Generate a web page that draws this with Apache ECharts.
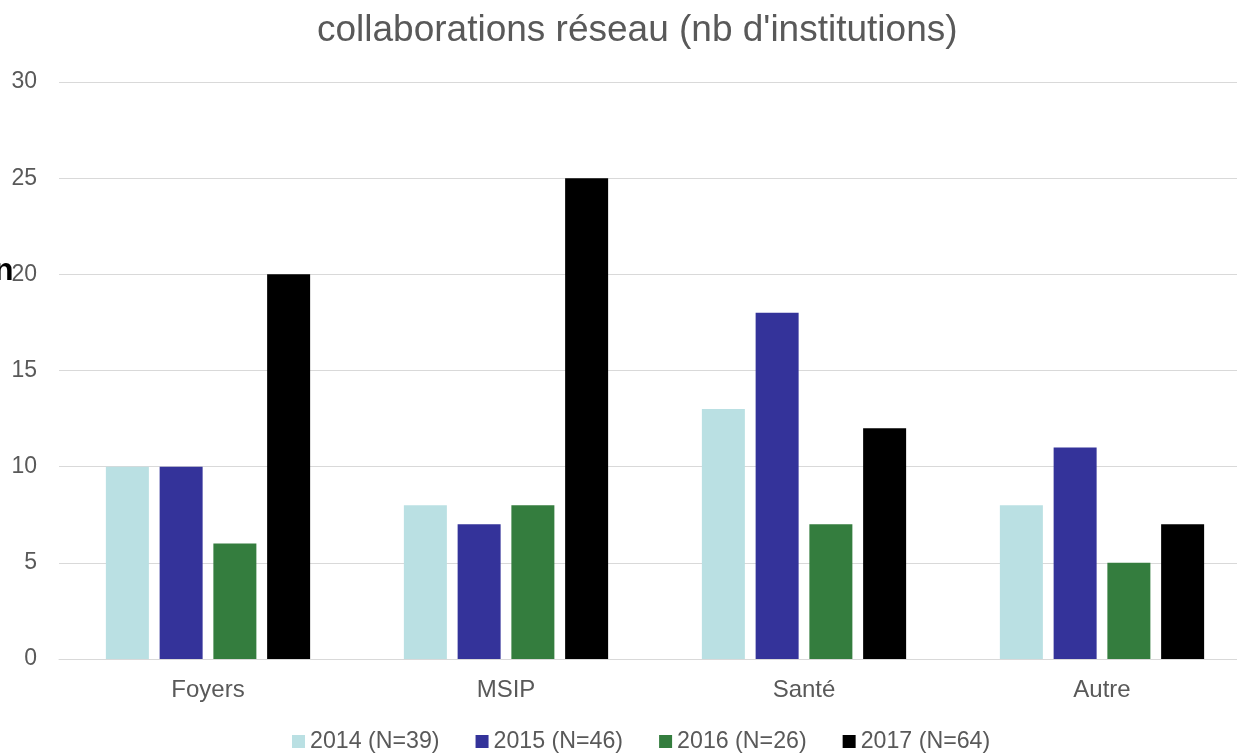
<!DOCTYPE html>
<html><head><meta charset="utf-8">
<script src="https://cdn.jsdelivr.net/npm/echarts@6/dist/echarts.min.js"></script>
<style>html,body{margin:0;padding:0;background:#fff;overflow:hidden}#c{width:1251px;height:753px}</style>
</head><body><div id="c"></div>
<script>
const categories = ['Foyers', 'MSIP', 'Santé', 'Autre'];
const seriesNames = ['2014 (N=39)', '2015 (N=46)', '2016 (N=26)', '2017 (N=64)'];
const v2014 = [10, 8, 13, 8];
const v2015 = [10, 7, 18, 11];
const v2016 = [6, 8, 7, 5];
const v2017 = [20, 25, 12, 7];
const colors = ['#BAE0E3', '#34339A', '#347D3E', '#000000'];
const values = [v2014, v2015, v2016, v2017];

const chart = echarts.init(document.getElementById('c'));
chart.setOption({
  animation: false,
  title: { text: 'collaborations réseau (nb d\'institutions)', left: 312, top: 7,
    textStyle: { fontFamily: 'Liberation Sans', fontSize: 37, fontWeight: 'normal', color: '#595959' } },
  legend: { top: 725, left: 287, itemWidth: 13, itemHeight: 13, itemGap: 36,
    icon: 'rect', textStyle: { fontFamily: 'Liberation Sans', fontSize: 23.2, color: '#595959' },
    data: seriesNames },
  grid: { left: 59, right: 0, top: 82, bottom: 94 },
  xAxis: { type: 'category', data: categories,
    axisLine: { lineStyle: { color: '#D9D9D9', width: 1 } }, axisTick: { show: false },
    axisLabel: { fontFamily: 'Liberation Sans', fontSize: 24, color: '#595959', margin: 19 } },
  yAxis: { type: 'value', min: 0, max: 30, interval: 5,
    axisLine: { show: false }, axisTick: { show: false },
    splitLine: { lineStyle: { color: '#D9D9D9', width: 1 } },
    axisLabel: { fontFamily: 'Liberation Sans', fontSize: 23, color: '#595959', margin: 22 } },
  graphic: [{ type: 'text', left: -6, top: 255, style: { text: 'n', font: 'bold 32px Liberation Sans', fill: '#000' } }],
  series: seriesNames.map((n, i) => ({
    name: n, type: 'bar', data: values[i], barWidth: 43, barGap: '25%',
    itemStyle: { color: colors[i] }
  }))
});
</script></body></html>
